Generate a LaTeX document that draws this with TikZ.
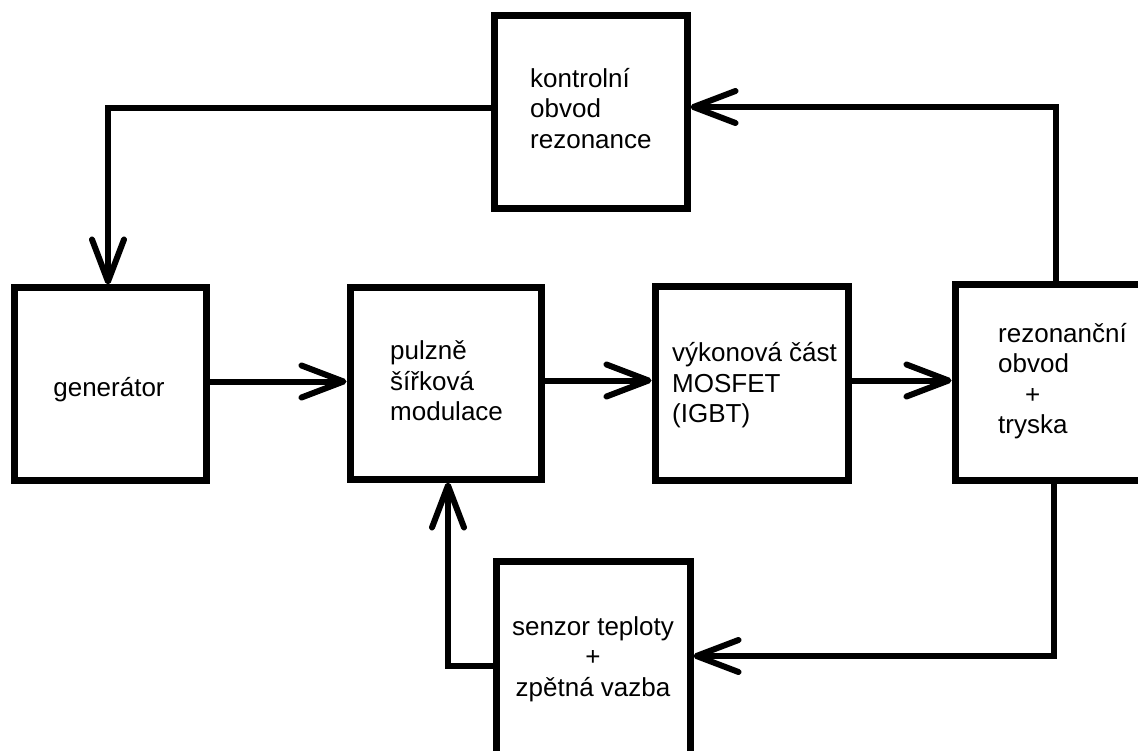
\documentclass[tikz,border=0pt]{standalone}
\usepackage{fontspec}
\setmainfont{Liberation Sans}
\usetikzlibrary{arrows.meta}
\newcommand{\fstrut}{\rule{0pt}{26pt}}
\begin{document}
\begin{tikzpicture}[x=1pt,y=-1pt,
  blk/.style={draw=black, line width=7pt, rectangle, inner sep=0pt, minimum width=#1, minimum height=#1},
  lbl/.style={inner sep=0pt, font=\fontsize{26pt}{30.5pt}\selectfont, text=black},
  conn/.style={draw=black, line width=6pt, line cap=round, line join=miter,
    -{Straight Barb[length=42pt,width=32pt,line width=6pt,round]}}
]
\useasboundingbox (0,0) rectangle (1138,751);
\clip (0,0) rectangle (1138,751);
\fill[white] (0,0) rectangle (1138,751);

% boxes
\node[blk=193pt] (kontrol) at (590.5,112.5) {};
\node[blk=192pt] (gen) at (110,384) {};
\node[blk=191pt] (pwm) at (445.5,383.5) {};
\node[blk=193pt] (vyk) at (751.5,383.5) {};
\node[blk=195pt] (rez) at (1052.5,382.5) {};
\node[blk=194pt] (senzor) at (593,658) {};

% labels
\node[lbl, anchor=north west, align=left] (tkontrol) at (530,61) {\fstrut kontrolní\\obvod\\rezonance};
\node[lbl, anchor=north] (tgen) at (109,370) {\fstrut generátor};
\node[lbl, anchor=north west, align=left] (tpwm) at (390,333.3) {\fstrut pulzně\\šířková\\modulace};
\node[lbl, anchor=north west, align=left] (tvyk) at (672,335.5) {\fstrut výkonová část\\MOSFET\\(IGBT)};
\node[lbl, anchor=north west, align=left] (trez) at (998,316) {\fstrut rezonanční\\obvod\\\hspace*{27pt}+\\tryska};
\node[lbl, anchor=north, align=center] (tsenzor) at (593,609) {\fstrut senzor teploty\\+\\zpětná vazba};

% connectors
\draw[conn] ([yshift=4pt]kontrol.west) -| ([xshift=-2pt]gen.north);
\draw[conn] ([yshift=2.5pt]gen.east) -- ([yshift=2.5pt]gen.east -| pwm.west);
\draw[conn] ([yshift=3pt]pwm.east) -- ([yshift=3pt]pwm.east -| vyk.west);
\draw[conn] ([yshift=3pt]vyk.east) -- ([yshift=3pt]vyk.east -| rez.west);
\draw[conn] ([xshift=3pt]rez.north) |- ([yshift=5.5pt]kontrol.east);
\draw[conn] ([xshift=1.5pt]rez.south) |- ([yshift=2pt]senzor.east);
\draw[conn] ([yshift=-8pt]senzor.west) -| ([xshift=2.5pt]pwm.south);
\end{tikzpicture}
\end{document}
